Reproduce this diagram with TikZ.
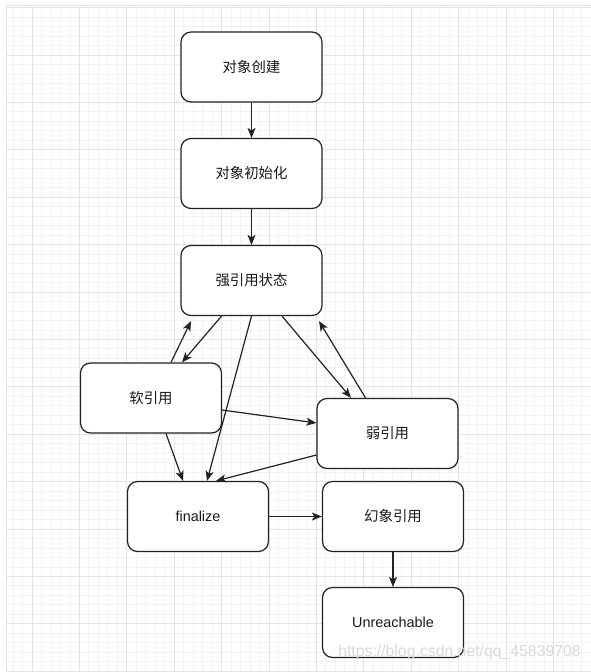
\documentclass[tikz,border=0pt]{standalone}
\usepackage{fontspec}
\setmainfont{Liberation Sans}
\newfontfamily\cjk{Noto Sans CJK SC}
\usetikzlibrary{arrows.meta}
\definecolor{gminor}{HTML}{F3F3F3}
\definecolor{gmajor}{HTML}{E4E4E4}
\definecolor{boxline}{HTML}{222222}
\tikzset{
  statebox/.style={draw=boxline, line width=1.2pt, rounded corners=10pt, fill=white,
    minimum width=141pt, minimum height=70pt, inner sep=0pt,
    font=\fontsize{14.4}{17}\selectfont\cjk, text=black!90},
  latinbox/.style={statebox, font=\fontsize{14.4}{17}\selectfont},
  conn/.style={draw=boxline, line width=1.2pt, -{Stealth[length=10pt,width=8pt,inset=2.5pt]}},
}
\begin{document}
\begin{tikzpicture}[x=1pt,y=-1pt]
\useasboundingbox (0,0) rectangle (591,672);
\fill[white] (0,0) rectangle (591,672);
% grid
\foreach \i in {0,...,60} \draw[gminor, line width=0.8pt] (13.04+9.48*\i,5) -- (13.04+9.48*\i,672);
\foreach \j in {0,...,70} \draw[gminor, line width=0.8pt] (6,7.6+9.48*\j) -- (591,7.6+9.48*\j);
\foreach \i in {0,...,11} \draw[gmajor, line width=0.8pt] (32+47.4*\i,5) -- (32+47.4*\i,672);
\foreach \j in {-1,...,13} \draw[gmajor, line width=0.8pt] (6,55+47.4*\j) -- (591,55+47.4*\j);
\draw[gmajor, line width=0.8pt] (6,672) -- (6,5) -- (591,5);

% nodes
\node[statebox] (create)  at (251.5,67)    {对象创建};
\node[statebox] (init)    at (251.5,173.5) {对象初始化};
\node[statebox] (strong)  at (251.5,280.5) {强引用状态};
\node[statebox] (soft)    at (151,398)     {软引用};
\node[statebox] (weak)    at (387.5,433.5) {弱引用};
\node[latinbox] (fin)     at (198,516.5)   {finalize};
\node[statebox] (phantom) at (393,516.5)   {幻象引用};
\node[latinbox] (unreach) at (393,622.5)   {Unreachable};

% connectors
\draw[conn] (create.south) -- (init.north);
\draw[conn] (init.south) -- (strong.north);
\draw[conn] ([xshift=-30pt]strong.south) -- ([xshift=31pt]soft.north);
\draw[conn] ([xshift=20pt]soft.north) -- ([xshift=-60.5pt,yshift=-5pt]strong.south);
\draw[conn] (strong.south) -- ([xshift=9pt]fin.north);
\draw[conn] ([xshift=30.5pt]strong.south) -- ([xshift=-36.5pt]weak.north);
\draw[conn] ([xshift=-22pt]weak.north) -- ([xshift=67.5pt,yshift=-5pt]strong.south);
\draw[conn] ([yshift=-12pt]soft.east) -- ([yshift=10.5pt]weak.west);
\draw[conn] ([xshift=15pt]soft.south) -- ([xshift=-15pt]fin.north);
\draw[conn] ([yshift=-21.5pt]weak.west) -- ([xshift=18pt]fin.north);
\draw[conn] (fin.east) -- (phantom.west);
\draw[conn] (phantom.south) -- (unreach.north);

% watermark
\node[text=gray!30, font=\fontsize{15.8}{18}\selectfont, inner sep=0pt] (wm) at (459.5,652) {https://blog.csdn.net/qq\_45839708};
\end{tikzpicture}
\end{document}
